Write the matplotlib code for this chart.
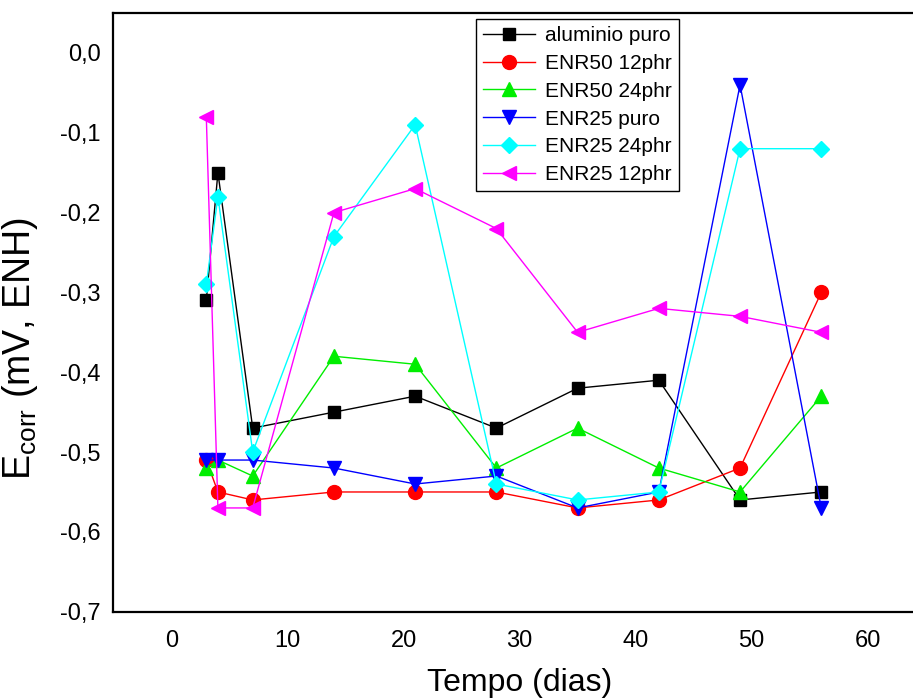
import matplotlib
matplotlib.use('Agg')
import matplotlib.pyplot as plt

plt.rcParams['font.family'] = ['Liberation Sans', 'DejaVu Sans']
plt.rcParams['mathtext.default'] = 'regular'

# tempo em dias
dias = [3, 4, 7, 14, 21, 28, 35, 42, 49, 56]

aluminio_puro = [-0.31, -0.15, -0.47, -0.45, -0.43, -0.47, -0.42, -0.41, -0.56, -0.55]
enr50_12phr = [-0.51, -0.55, -0.56, -0.55, -0.55, -0.55, -0.57, -0.56, -0.52, -0.30]
enr50_24phr = [-0.52, -0.51, -0.53, -0.38, -0.39, -0.52, -0.47, -0.52, -0.55, -0.43]
enr25_puro = [-0.51, -0.51, -0.51, -0.52, -0.54, -0.53, -0.57, -0.55, -0.04, -0.57]
enr25_24phr = [-0.29, -0.18, -0.50, -0.23, -0.09, -0.54, -0.56, -0.55, -0.12, -0.12]
enr25_12phr = [-0.08, -0.57, -0.57, -0.20, -0.17, -0.22, -0.35, -0.32, -0.33, -0.35]

series = [
    (aluminio_puro, 'aluminio puro', 'black', 's', 9),
    (enr50_12phr, 'ENR50 12phr', 'red', 'o', 10),
    (enr50_24phr, 'ENR50 24phr', '#00ee00', '^', 10.5),
    (enr25_puro, 'ENR25 puro', 'blue', 'v', 10.5),
    (enr25_24phr, 'ENR25 24phr', 'cyan', 'D', 8.5),
    (enr25_12phr, 'ENR25 12phr', 'magenta', '<', 10.5),
]

fig = plt.figure(figsize=(9.13, 6.98), dpi=100)
ax = fig.add_axes([0.1243, 0.1236, 0.8896, 0.8578])

for values, label, color, marker, size in series:
    ax.plot(dias, values, color=color, marker=marker, markersize=size,
            linewidth=1.0, label=label, markeredgecolor=color)

ax.set_xlim(-5, 65)
ax.set_ylim(-0.70, 0.05)
ax.set_xticks([0, 10, 20, 30, 40, 50, 60])
ax.set_yticks([0.0, -0.1, -0.2, -0.3, -0.4, -0.5, -0.6, -0.7])
ax.set_yticklabels(['0,0', '-0,1', '-0,2', '-0,3', '-0,4', '-0,5', '-0,6', '-0,7'])
ax.tick_params(axis='both', length=0, labelsize=17)
ax.tick_params(axis='x', pad=13)
ax.tick_params(axis='y', pad=9)

for side in ['left', 'bottom', 'top']:
    ax.spines[side].set_linewidth(1.6)
ax.spines['right'].set_visible(False)

ax.set_xlabel('Tempo (dias)', fontsize=23)
ax.xaxis.set_label_coords(0.5, -0.094)
ax.set_ylabel(r'E$_{corr}$ (mV, ENH)', fontsize=27)
ax.yaxis.set_label_coords(-0.09, 0.44)

leg = ax.legend(loc='upper left', bbox_to_anchor=(0.4464, 0.99), fontsize=15,
                handlelength=2.5, handletextpad=0.45, labelspacing=0.42,
                borderpad=0.35, fancybox=False, framealpha=1, borderaxespad=0)
leg.get_frame().set_edgecolor('black')
leg.get_frame().set_linewidth(1.0)

fig.savefig('out.png', dpi=100)
